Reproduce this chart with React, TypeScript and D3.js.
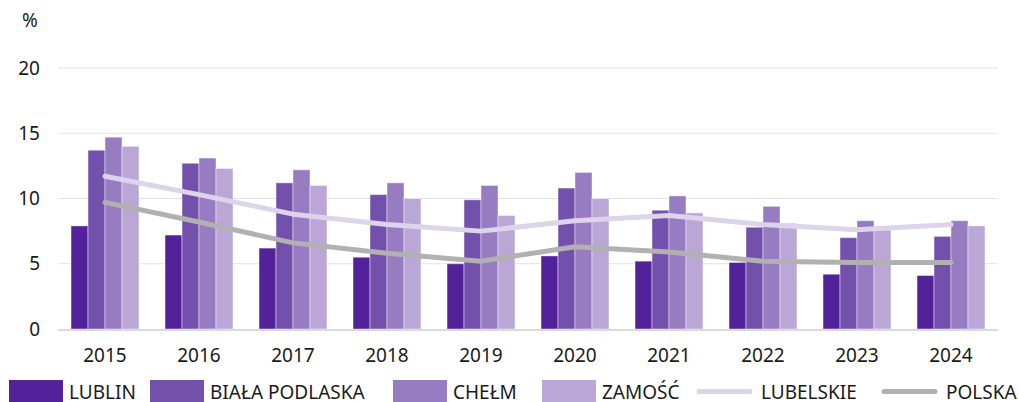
import React, { useRef, useEffect } from 'react';
import * as d3 from 'd3';

// years on the x axis
const years = ['2015', '2016', '2017', '2018', '2019', '2020', '2021', '2022', '2023', '2024'];

// bar series (%)
const lublin = [7.9, 7.2, 6.2, 5.5, 5.0, 5.6, 5.2, 5.1, 4.2, 4.1];
const bialaPodlaska = [13.7, 12.7, 11.2, 10.3, 9.9, 10.8, 9.1, 7.8, 7.0, 7.1];
const chelm = [14.7, 13.1, 12.2, 11.2, 11.0, 12.0, 10.2, 9.4, 8.3, 8.3];
const zamosc = [14.0, 12.3, 11.0, 10.0, 8.7, 10.0, 8.9, 8.1, 7.6, 7.9];

// line series (%)
const lubelskie = [11.7, 10.3, 8.8, 8.0, 7.5, 8.3, 8.7, 8.0, 7.6, 8.0];
const polska = [9.7, 8.2, 6.6, 5.8, 5.2, 6.3, 5.9, 5.2, 5.1, 5.1];

const yTicks = [0, 5, 10, 15, 20];

const barSeries = [
    { name: 'LUBLIN', values: lublin, color: '#53219a' },
    { name: 'BIAŁA PODLASKA', values: bialaPodlaska, color: '#7450ad' },
    { name: 'CHEŁM', values: chelm, color: '#977cc1' },
    { name: 'ZAMOŚĆ', values: zamosc, color: '#baa7d6' }
];
const lineSeries = [
    { name: 'LUBELSKIE', values: lubelskie, color: '#ddd3eb' },
    { name: 'POLSKA', values: polska, color: '#b1b1b1' }
];

const config = {
    w: 1019,
    h: 402,
    left: 58,
    right: 998,
    top: 68,
    bottom: 329,
    fontSize: 19,
    font: '"Noto Sans", "Open Sans", sans-serif'
};

const Chart = () => {
    const svgRef = useRef(null);

    useEffect(() => {
        const svg = d3.select(svgRef.current)
            .attr('width', config.w)
            .attr('height', config.h)
            .style('font-family', config.font);
        svg.selectAll('*').remove();

        const x0 = d3.scaleBand()
            .domain(years)
            .range([config.left, config.right])
            .paddingInner(0.277)
            .paddingOuter(0.1385);
        const x1 = d3.scaleBand()
            .domain(barSeries.map(s => s.name))
            .range([0, x0.bandwidth()]);
        const y = d3.scaleLinear()
            .domain([0, 20])
            .range([config.bottom, config.top]);

        // grid
        svg.append('g')
            .selectAll('line')
            .data(yTicks.filter(t => t > 0))
            .join('line')
            .attr('x1', config.left)
            .attr('x2', config.right)
            .attr('y1', d => y(d))
            .attr('y2', d => y(d))
            .attr('stroke', '#e2e2e2')
            .attr('stroke-width', 1);

        // y labels
        svg.append('g')
            .selectAll('text')
            .data(yTicks)
            .join('text')
            .attr('x', 40)
            .attr('y', d => y(d))
            .attr('dy', '0.35em')
            .attr('text-anchor', 'end')
            .attr('font-size', config.fontSize)
            .attr('fill', '#1a1a1a')
            .text(d => d);

        svg.append('text')
            .attr('x', 30)
            .attr('y', 20)
            .attr('dy', '0.35em')
            .attr('text-anchor', 'middle')
            .attr('font-size', config.fontSize)
            .attr('fill', '#1a1a1a')
            .text('%');

        // bars
        const groups = svg.append('g')
            .selectAll('g')
            .data(years)
            .join('g')
            .attr('transform', d => `translate(${x0(d)},0)`);
        groups.selectAll('rect')
            .data((d, i) => barSeries.map(s => ({ name: s.name, color: s.color, v: s.values[i] })))
            .join('rect')
            .attr('x', d => x1(d.name))
            .attr('y', d => y(d.v))
            .attr('width', x1.bandwidth())
            .attr('height', d => y(0) - y(d.v))
            .attr('fill', d => d.color)
            .attr('stroke', '#ffffff')
            .attr('stroke-opacity', 0.45)
            .attr('stroke-width', 1);

        // x axis line
        svg.append('line')
            .attr('x1', config.left)
            .attr('x2', config.right)
            .attr('y1', y(0) + 1)
            .attr('y2', y(0) + 1)
            .attr('stroke', '#dadada')
            .attr('stroke-width', 2);

        // x labels
        svg.append('g')
            .selectAll('text')
            .data(years)
            .join('text')
            .attr('x', d => x0(d) + x0.bandwidth() / 2)
            .attr('y', 355)
            .attr('dy', '0.35em')
            .attr('text-anchor', 'middle')
            .attr('font-size', config.fontSize)
            .attr('fill', '#1a1a1a')
            .text(d => d);

        // lines
        const line = d3.line()
            .x((d, i) => x0(years[i]) + x0.bandwidth() / 2)
            .y(d => y(d))
            .curve(d3.curveLinear);
        svg.append('g')
            .selectAll('path')
            .data(lineSeries)
            .join('path')
            .attr('d', d => line(d.values))
            .attr('fill', 'none')
            .attr('stroke', d => d.color)
            .attr('stroke-width', 5)
            .attr('stroke-linecap', 'round')
            .attr('stroke-linejoin', 'round');

        // legend
        const legendItems = [
            { name: 'LUBLIN', color: barSeries[0].color, type: 'bar', x: 9 },
            { name: 'BIAŁA PODLASKA', color: barSeries[1].color, type: 'bar', x: 150 },
            { name: 'CHEŁM', color: barSeries[2].color, type: 'bar', x: 393 },
            { name: 'ZAMOŚĆ', color: barSeries[3].color, type: 'bar', x: 542 },
            { name: 'LUBELSKIE', color: lineSeries[0].color, type: 'line', x: 697 },
            { name: 'POLSKA', color: lineSeries[1].color, type: 'line', x: 882 }
        ];
        const legend = svg.append('g')
            .selectAll('g')
            .data(legendItems)
            .join('g')
            .attr('transform', d => `translate(${d.x},0)`);
        legend.filter(d => d.type === 'bar')
            .append('rect')
            .attr('x', 0)
            .attr('y', 380)
            .attr('width', 54)
            .attr('height', 22)
            .attr('fill', d => d.color);
        legend.filter(d => d.type === 'line')
            .append('line')
            .attr('x1', 2)
            .attr('x2', 53)
            .attr('y1', 391.5)
            .attr('y2', 391.5)
            .attr('stroke', d => d.color)
            .attr('stroke-width', 5)
            .attr('stroke-linecap', 'round');
        legend.append('text')
            .attr('x', d => d.type === 'bar' ? 60 : 64)
            .attr('y', 392)
            .attr('dy', '0.35em')
            .attr('font-size', config.fontSize)
            .attr('fill', '#1a1a1a')
            .text(d => d.name);
    }, []);

    return <svg ref={svgRef}></svg>;
};

export default function App() {
    return (
        <div style={{ position: 'absolute', left: 0, top: 0 }}>
            <Chart />
        </div>
    );
}
